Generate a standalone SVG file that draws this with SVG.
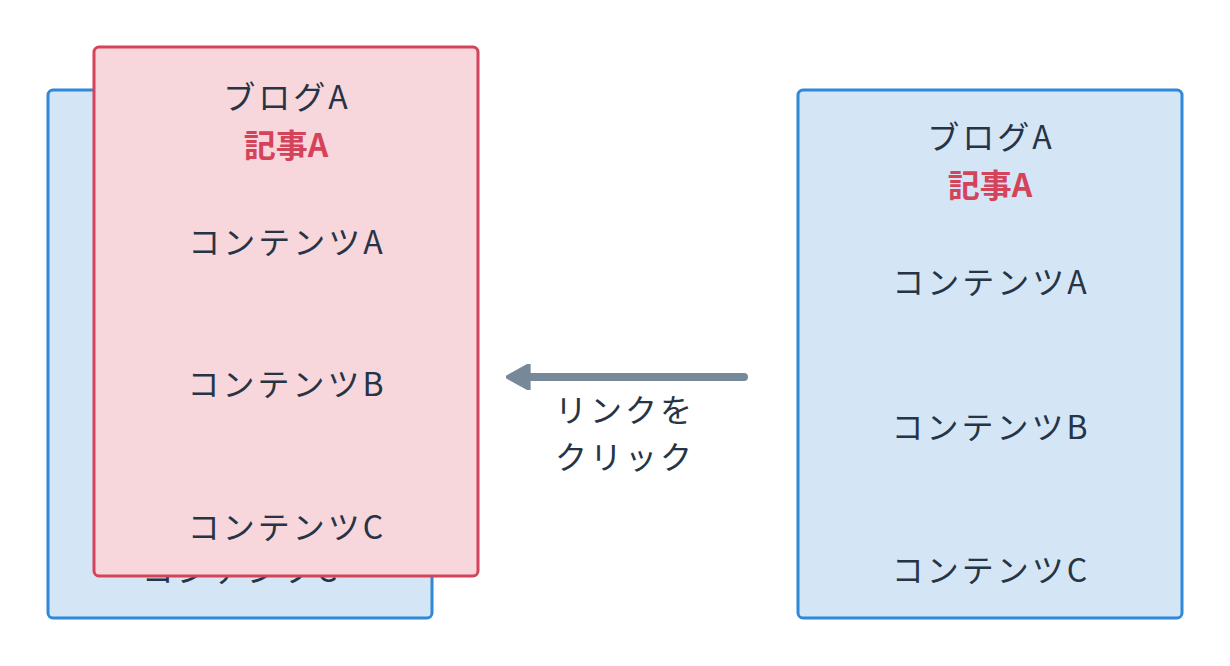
<svg xmlns="http://www.w3.org/2000/svg" width="1230" height="666" viewBox="0 0 1230 666">
<style>
.blue{fill:#d4e6f6;stroke:#2f88d8;stroke-width:3}
.red{fill:#f7d6dc;stroke:#d5435a;stroke-width:3}
text{font-family:"Noto Sans CJK JP","Noto Sans",sans-serif;font-size:32px;letter-spacing:3px;fill:#263445;text-anchor:middle;dominant-baseline:central}
.h{fill:#d5435a;font-weight:bold;letter-spacing:0}
</style>
<defs>
<marker id="ah" viewBox="0 0 10 10" refX="7" refY="5" markerWidth="3.2" markerHeight="3.2" orient="auto">
<path d="M10,5 L1,0 L1,10 Z" fill="#778899" stroke="#778899" stroke-linejoin="round"/>
</marker>
</defs>
<rect width="1230" height="666" fill="#fff"/>
<g id="back">
<rect class="blue" x="48" y="90" width="384" height="528" rx="5"/>
<text x="241" y="135">ブログA</text>
<text x="240" y="183" class="h">記事A</text>
<text x="241" y="280">コンテンツA</text>
<text x="241" y="425">コンテンツB</text>
<text x="241" y="568">コンテンツC</text>
</g>
<g id="front">
<rect class="red" x="94" y="47" width="384" height="529" rx="5"/>
<text x="287" y="95">ブログA</text>
<text x="286" y="143" class="h">記事A</text>
<text x="287" y="240">コンテンツA</text>
<text x="287" y="382">コンテンツB</text>
<text x="287" y="525">コンテンツC</text>
</g>
<g id="right">
<rect class="blue" x="798" y="90" width="384" height="528" rx="5"/>
<text x="991" y="135">ブログA</text>
<text x="990" y="183" class="h">記事A</text>
<text x="991" y="280">コンテンツA</text>
<text x="991" y="425">コンテンツB</text>
<text x="991" y="568">コンテンツC</text>
</g>
<g id="connectors">
<line x1="744" y1="377" x2="514" y2="377" stroke="#778899" stroke-width="8" stroke-linecap="round" marker-end="url(#ah)"/>
<text x="625" y="408">リンクを</text>
<text x="625" y="455">クリック</text>
</g>
</svg>
